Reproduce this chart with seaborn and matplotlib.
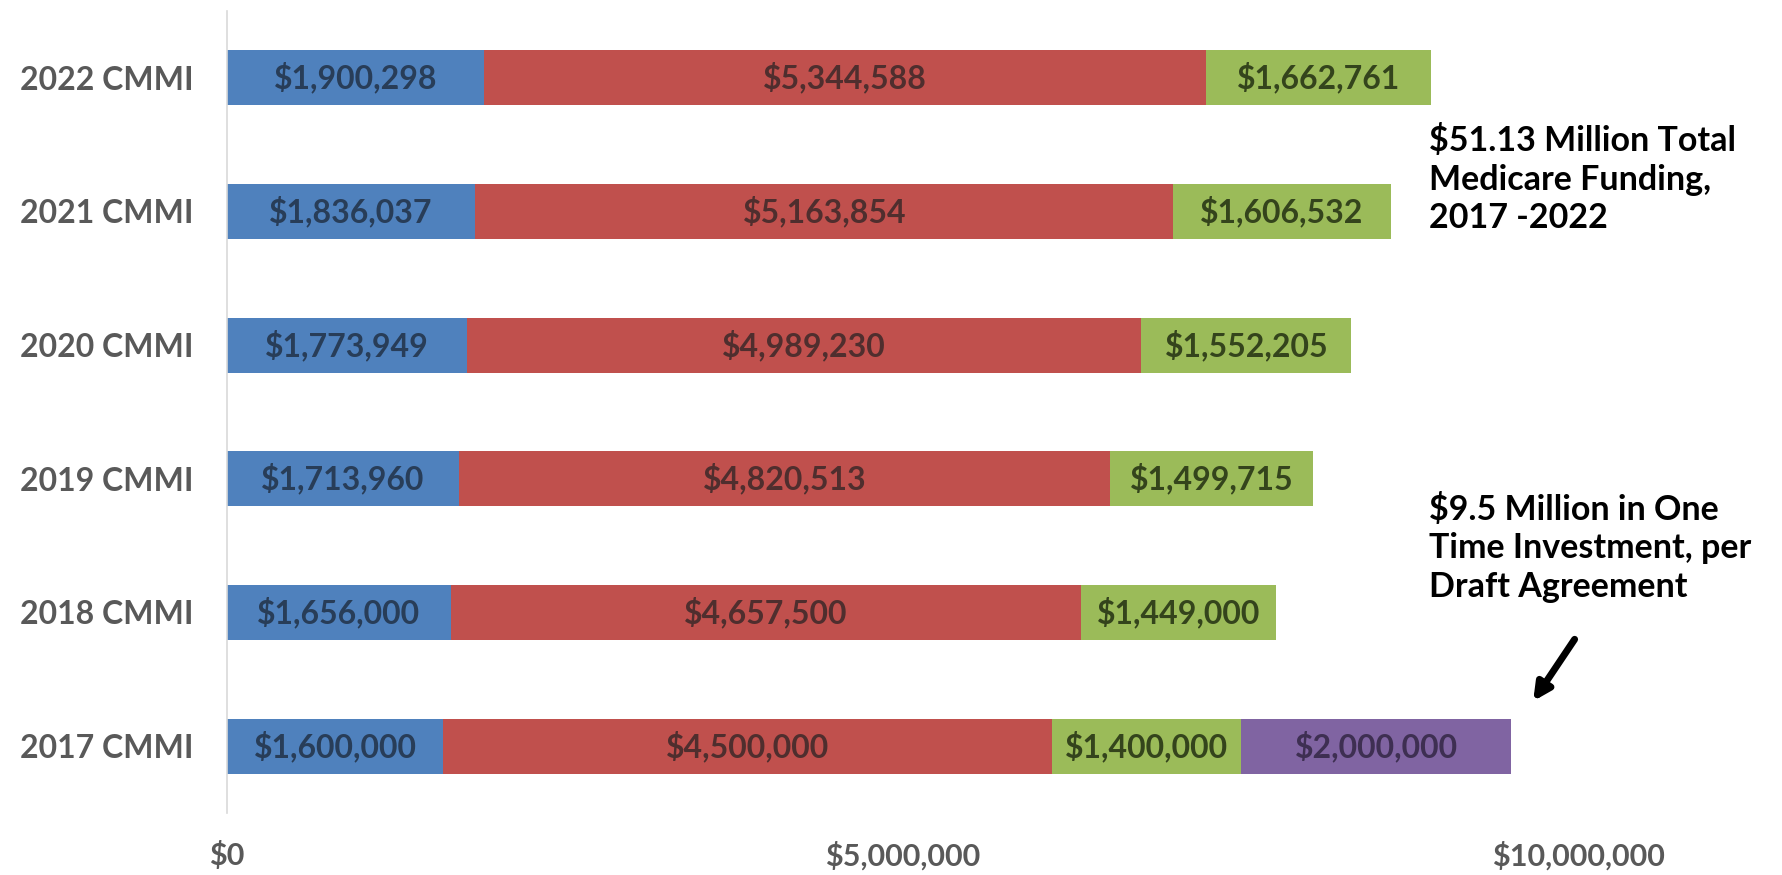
import matplotlib
matplotlib.use("Agg")
import matplotlib.pyplot as plt
import seaborn as sns
import numpy as np
import pandas as pd

categories = ["2022 CMMI", "2021 CMMI", "2020 CMMI", "2019 CMMI", "2018 CMMI", "2017 CMMI"]
blue_vals = [1900298, 1836037, 1773949, 1713960, 1656000, 1600000]
red_vals = [5344588, 5163854, 4989230, 4820513, 4657500, 4500000]
green_vals = [1662761, 1606532, 1552205, 1499715, 1449000, 1400000]
purple_vals = [0, 0, 0, 0, 0, 2000000]
xticks = [0, 5000000, 10000000]
xtick_labels = ["$0", "$5,000,000", "$10,000,000"]
note_total = "$51.13 Million Total\nMedicare Funding,\n2017 -2022"
note_onetime = "$9.5 Million in One\nTime Investment, per\nDraft Agreement"

sns.set_style("white")
plt.rcParams["font.family"] = ["Lato", "DejaVu Sans"]

series = [blue_vals, red_vals, green_vals, purple_vals]
colors = ["#4F81BD", "#C0504D", "#9BBB59", "#8064A2"]
text_colors = ["#283d58", "#4f2e2e", "#34441c", "#3e2f52"]

cum = np.cumsum(np.array(series, dtype=float), axis=0)
df = pd.DataFrame({"cat": categories})
for i in range(4):
    df[f"c{i}"] = cum[i]

fig = plt.figure(figsize=(17.83, 8.75), dpi=100)
ax = fig.add_axes([0.1273, 0.0709, 0.872, 0.9166])

for i in reversed(range(4)):
    sns.barplot(data=df, x=f"c{i}", y="cat", order=categories, color=colors[i],
                saturation=1, width=0.41, orient="h", ax=ax, linewidth=0)

for j, cat in enumerate(categories):
    start = 0.0
    for i in range(4):
        v = series[i][j]
        if v > 0:
            ax.text(start + v / 2, j, f"${v:,.0f}", ha="center", va="center",
                    fontsize=23, fontweight="bold", color=text_colors[i])
        start += v

ax.set_xlim(0, 11.5e6)
ax.set_ylim(5.5, -0.5)
ax.set_xticks(xticks)
ax.set_xticklabels(xtick_labels)
ax.set_xlabel("")
ax.set_ylabel("")
for s in ["top", "right", "bottom"]:
    ax.spines[s].set_visible(False)
ax.spines["left"].set_color("#d9d9d9")
ax.spines["left"].set_linewidth(1.2)
ax.tick_params(axis="y", length=0, pad=24, labelsize=23, labelcolor="#595959")
ax.tick_params(axis="x", length=0, pad=20, labelsize=22, labelcolor="#595959")
for lab in ax.get_yticklabels() + ax.get_xticklabels():
    lab.set_fontweight("bold")

fig.text(0.8015, 0.858, note_total, ha="left", va="top", fontsize=24.5,
         fontweight="bold", color="black", linespacing=1.25)
fig.text(0.8015, 0.437, note_onetime, ha="left", va="top", fontsize=24.5,
         fontweight="bold", color="black", linespacing=1.25)
ax.annotate("", xy=(0.859, 0.196), xycoords="figure fraction",
            xytext=(0.884, 0.272), textcoords="figure fraction",
            arrowprops=dict(arrowstyle="-|>,head_length=1.0,head_width=0.5",
                            color="black", lw=5))

fig.savefig("out.png", dpi=100)
